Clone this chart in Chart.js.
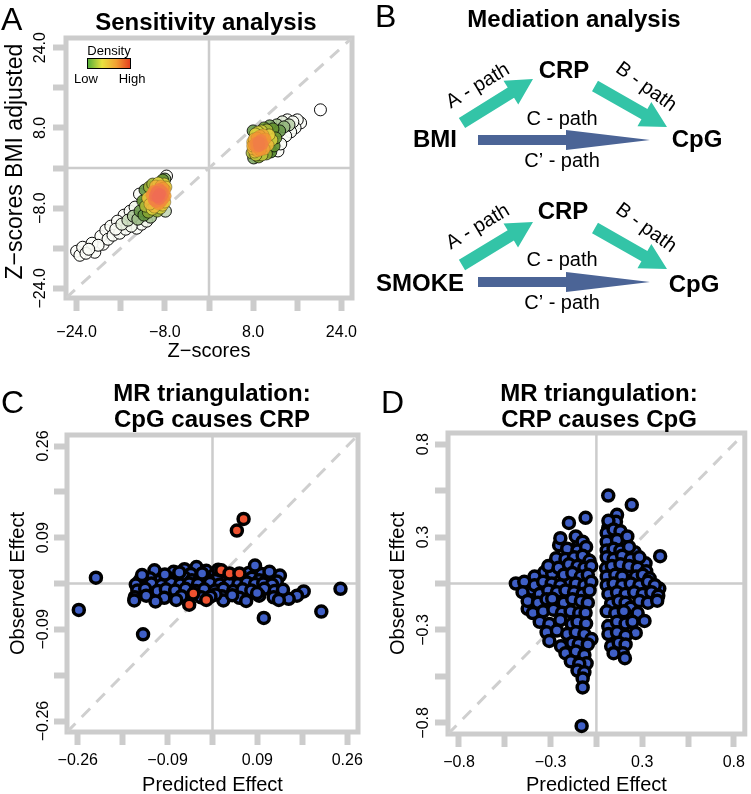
<!DOCTYPE html>
<html>
<head>
<meta charset="utf-8">
<script src="https://cdn.jsdelivr.net/npm/chart.js@4.4.1/dist/chart.umd.min.js"></script>
<style>
  body { margin: 0; background: #fff; }
  #fig { position: relative; width: 751px; height: 794px; overflow: hidden;
         font-family: "Liberation Sans", Arial, sans-serif; color: #000; }
  #fig canvas { position: absolute; }
  .lbl { position: absolute; white-space: nowrap; line-height: 1; }
  .letter { font-size: 32px; }
  .ttl { position: absolute; width: 320px; text-align: center; font-size: 24px;
         font-weight: bold; line-height: 26px; white-space: nowrap; }
  .small { font-size: 13px; width: 50px; text-align: center; }
  #densBar { position: absolute; left: 87px; top: 58px; width: 42px; height: 9px;
             border: 1px solid #000;
             background: linear-gradient(to right, #58b039, #e9e23f, #f2a233, #e5401f); }
</style>
</head>
<body>
<div id="fig">
  <canvas id="chartA" width="375" height="375" style="left:0;top:0"></canvas>
  <canvas id="chartB" width="376" height="375" style="left:375px;top:0"></canvas>
  <canvas id="chartC" width="375" height="404" style="left:0;top:390px"></canvas>
  <canvas id="chartD" width="376" height="404" style="left:375px;top:390px"></canvas>

  <div class="lbl letter" style="left:1px;top:3px">A</div>
  <div class="lbl letter" style="left:375px;top:0px">B</div>
  <div class="lbl letter" style="left:1px;top:386px">C</div>
  <div class="lbl letter" style="left:381px;top:386px">D</div>

  <div class="ttl" style="left:46px;top:9px">Sensitivity analysis</div>
  <div class="ttl" style="left:414px;top:6px">Mediation analysis</div>
  <div class="ttl" style="left:52px;top:380px">MR triangulation:<br>CpG causes CRP</div>
  <div class="ttl" style="left:439px;top:380px">MR triangulation:<br>CRP causes CpG</div>

  <div class="lbl small" style="left:84px;top:44px">Density</div>
  <div id="densBar"></div>
  <div class="lbl small" style="left:61px;top:72px">Low</div>
  <div class="lbl small" style="left:107px;top:72px">High</div>
</div>

<script>
/* ---------- data ---------- */

// Panel A: Z-scores vs BMI adjusted Z-scores
const zScores = [
  -24.0, -23.4, -22.9, -22.3, -21.8, -21.2, -20.7, -20.1, -19.6, -19.2, -18.7, -18.3, -17.8, -17.4,
  -16.9, -16.6, -16.2, -15.8, -15.4, -15.1, -14.7, -14.3, -14.1, -13.7, -13.4, -13.1, -12.9, -12.6,
  -12.5, -12.2, -12.0, -11.8, -11.6, -11.5, -11.3, -11.1, -11.0, -10.8, -10.7, -10.6, -10.4, -10.3,
  -10.2, -10.0, -10.0, -9.9, -9.8, -9.7, -9.6, -9.5, -9.4, -9.3, -9.2, -9.1, -9.0, -9.0, -8.9, -8.8,
  -8.7, -8.6, -8.6, -8.5, -8.4, -8.4, -8.3, -8.2, -8.2, -8.1, -8.0, -8.0, -7.9, -7.9, -7.8, -7.7, -8.0,
  20.2, 16.6, 16.0, 15.6, 15.2, 14.8, 14.5, 14.2, 13.9, 13.6, 13.3, 13.0, 12.8, 12.5, 12.3, 12.1,
  11.8, 11.6, 11.4, 11.2, 11.0, 10.9, 10.7, 10.5, 10.4, 10.2, 10.0, 10.0,
  9.8, 9.7, 9.6, 9.5, 9.4, 9.3, 9.2, 9.1, 9.0, 9.0, 8.9, 8.8, 8.7, 8.6, 8.5, 8.5, 8.4, 8.3, 8.2,
  8.2, 8.1, 8.0, 8.0, 7.9, 7.9, 7.8
];
const zScoresAdj = [
  -16.6, -17.4, -15.8, -17.0, -16.2, -15.0, -16.8, -15.4, -13.6, -15.2, -12.4, -14.2, -11.6, -13.4,
  -12.2, -10.6, -13.0, -11.2, -9.4, -12.2, -10.4, -8.6, -11.6, -9.6, -7.8, -12.0, -10.2, -5.2,
  -8.6, -11.2, -6.6, -9.4, -4.4, -7.6, -10.6, -6.0, -8.8, -3.8, -7.2, -9.8, -5.4, -8.2,
  -3.2, -6.4, -4.6, -7.8, -5.6, -3.6, -6.8, -4.8, -8.6, -5.8, -3.0, -7.2, -4.2, -6.2, -5.2, -8.0,
  -3.6, -6.6, -4.6, -5.6, -2.4, -7.4, -4.0, -6.0, -5.0, -3.2, -6.8, -4.4, -5.6, -8.6, -3.8, -1.6, -2.2,
  11.6, 9.0, 9.6, 8.0, 9.2, 7.2, 8.6, 9.6, 6.4, 8.2, 9.2, 4.8, 7.4, 3.4, 8.6, 6.0,
  4.4, 7.8, 5.6, 3.2, 8.4, 6.6, 4.6, 7.6, 2.8, 5.8, 8.0, 3.8,
  6.6, 4.8, 2.6, 7.4, 5.6, 3.6, 6.4, 4.4, 2.2, 5.2, 7.2, 3.4, 6.0, 4.2, 2.6, 5.0, 6.8, 3.2, 4.6,
  5.8, 2.0, 3.8, 7.4, 5.2, 4.4, 3.0
];
const ticksA = [-24, -16, -8, 0, 8, 16, 24];
const tickLabelsA = ['\u221224.0', '', '\u22128.0', '', '8.0', '', '24.0'];

// Panel C: CpG causes CRP
const predictedC = [
  -0.225, -0.258, -0.134, 0.099, 0.210, 0.247, 0.176, 0.163, 0.147, 0.082,
  -0.109, -0.054, -0.031, -0.075, -0.042, -0.012, 0.070, 0.095, 0.114, 0.130, 0.003, -0.112, 0.082,
  -0.140, -0.121, -0.100, -0.086, -0.068, -0.055, -0.040, -0.024, -0.010, 0.010, 0.028, 0.044, 0.060,
  0.076, 0.090, 0.106, 0.124,
  -0.148, -0.118, -0.098, -0.080, -0.062, -0.045, -0.028, -0.005, 0.014, 0.032, 0.050, 0.066, 0.082,
  0.098, 0.115,
  -0.145, -0.130, -0.106, -0.090, -0.072, -0.052, -0.032, -0.016, 0.005, 0.021, 0.040, 0.058, 0.075,
  0.100, 0.120, 0.136,
  -0.150, -0.128, -0.093, -0.060, -0.022, 0.018, 0.052, 0.090, 0.118,
  -0.151, -0.110, -0.070, 0.021, 0.065, 0.128,
  -0.092, -0.064, -0.020, 0.006, 0.038, 0.086, 0.110, -0.136, -0.004, 0.011
];
const observedC = [
  0.011, -0.050, -0.096, -0.065, -0.053, -0.010, -0.015, -0.023, -0.029, 0.031,
  0.019, 0.027, 0.031, 0.022, 0.018, 0.024, 0.020, 0.018, 0.015, 0.015, 0.016, 0.025, 0.034,
  0.006, 0.010, 0.007, 0.011, 0.008, 0.012, 0.006, 0.010, 0.008, 0.009, 0.006, 0.010, 0.007,
  0.011, 0.006, 0.009, 0.004,
  -0.002, 0.000, -0.003, 0.001, -0.002, 0.000, -0.001, 0.001, -0.002, 0.000, -0.001, 0.002, -0.001,
  0.000, -0.002,
  -0.013, -0.010, -0.014, -0.011, -0.013, -0.010, -0.014, -0.011, -0.013, -0.010, -0.014, -0.011, -0.013,
  -0.010, -0.014, -0.012,
  -0.026, -0.023, -0.027, -0.024, -0.026, -0.024, -0.027, -0.023, -0.026,
  -0.032, -0.034, -0.031, -0.032, -0.033, -0.031,
  0.017, 0.021, 0.019, -0.021, -0.022, -0.018, 0.022, 0.016, -0.025, 0.026
];
const predictedCRed = [0.047, 0.060, 0.017, 0.033, 0.052, -0.037, -0.045, -0.012];
const observedCRed = [0.100, 0.122, 0.025, 0.019, 0.019, -0.019, -0.040, -0.031];
const ticksC = [-0.26, -0.17333, -0.08667, 0, 0.08667, 0.17333, 0.26];
const tickLabelsC = ['\u22120.26', '', '\u22120.09', '', '0.09', '', '0.26'];

// Panel D: CRP causes CpG
const predictedD = [
  -0.160, -0.063, -0.103, -0.217, -0.120, -0.057, -0.234, -0.303, -0.257, -0.469, -0.377, -0.171,
  -0.21, -0.12, -0.08, -0.17, -0.11, -0.06, -0.18, -0.13, -0.08, -0.04,
  -0.28, -0.22, -0.16, -0.11, -0.07, -0.03, -0.36, -0.19, -0.14, -0.09, -0.05,
  -0.42, -0.36, -0.31, -0.26, -0.21, -0.12, -0.07, -0.03,
  -0.43, -0.33, -0.28, -0.23, -0.18, -0.13, -0.08, -0.04,
  -0.40, -0.40, -0.34, -0.29, -0.24, -0.19, -0.14, -0.09, -0.05,
  -0.257, -0.37, -0.31, -0.25, -0.20, -0.15, -0.10, -0.063,
  -0.33, -0.274, -0.21, -0.143, -0.11, -0.06,
  -0.29, -0.23, -0.17, -0.12, -0.07, -0.029,
  -0.274, -0.206, -0.14, -0.103, -0.05,
  -0.18, -0.12, -0.07, -0.149, -0.057, -0.10, -0.11, -0.07,
  -0.08, -0.08, -0.086,
  0.069, 0.206, 0.120, 0.114, 0.069, 0.086, 0.166, 0.223, 0.286, 0.371, 0.366, 0.057, 0.183,
  0.07, 0.06, 0.10, 0.14, 0.06, 0.12, 0.18, 0.06, 0.10, 0.14, 0.19,
  0.06, 0.10, 0.15, 0.20, 0.25, 0.09, 0.14, 0.19, 0.24, 0.29,
  0.06, 0.11, 0.15, 0.23, 0.27, 0.31,
  0.06, 0.10, 0.15, 0.20, 0.25, 0.30, 0.34,
  0.07, 0.12, 0.17, 0.22, 0.27, 0.32, 0.36,
  0.086, 0.13, 0.17, 0.20, 0.25, 0.30, 0.354,
  0.06, 0.11, 0.16, 0.24, 0.28,
  0.069, 0.12, 0.17, 0.229, 0.21,
  0.07, 0.12, 0.17, 0.086, 0.13, 0.17,
  0.154, 0.166, 0.10
];
const observedD = [
  0.348, 0.377, 0.232, 0.220, 0.174, 0.139, 0.145, 0.064, 0.058, 0.000, -0.035, 0.017,
  0.26, 0.27, 0.24, 0.20, 0.19, 0.21, 0.14, 0.15, 0.16, 0.13,
  0.10, 0.09, 0.11, 0.10, 0.09, 0.10, 0.04, 0.05, 0.06, 0.04, 0.05,
  0.01, -0.01, 0.01, 0.00, -0.01, 0.00, -0.01, 0.01,
  -0.05, -0.06, -0.04, -0.05, -0.04, -0.05, -0.06, -0.04,
  -0.145, -0.10, -0.11, -0.09, -0.10, -0.11, -0.09, -0.10, -0.11,
  -0.087, -0.17, -0.16, -0.15, -0.168, -0.16, -0.17, -0.168,
  -0.22, -0.232, -0.21, -0.232, -0.22, -0.23,
  -0.28, -0.27, -0.29, -0.28, -0.29, -0.319,
  -0.33, -0.36, -0.34, -0.348, -0.35,
  -0.40, -0.39, -0.41, -0.447, -0.458, -0.46, -0.50, -0.51,
  -0.545, -0.597, -0.818,
  0.505, 0.452, 0.394, 0.354, 0.319, 0.267, 0.238, 0.180, 0.116, 0.157, -0.029, 0.087, 0.058,
  0.36, 0.29, 0.31, 0.30, 0.24, 0.25, 0.27, 0.19, 0.20, 0.19, 0.21,
  0.15, 0.14, 0.16, 0.14, 0.15, 0.10, 0.11, 0.10, 0.09, 0.07,
  0.04, 0.05, 0.04, 0.04, 0.05, 0.03,
  -0.01, 0.00, -0.01, 0.00, -0.01, 0.01, -0.01,
  -0.06, -0.05, -0.06, -0.05, -0.06, -0.05, -0.07,
  -0.116, -0.10, -0.11, -0.139, -0.10, -0.11, -0.099,
  -0.16, -0.17, -0.16, -0.17, -0.215,
  -0.244, -0.22, -0.23, -0.284, -0.22,
  -0.29, -0.28, -0.30, -0.36, -0.34, -0.35,
  -0.40, -0.429, -0.40
];
const ticksD = [-0.8, -0.53333, -0.26667, 0, 0.26667, 0.53333, 0.8];
const tickLabelsD = ['\u22120.8', '', '\u22120.3', '', '0.3', '', '0.8'];

// Panel B: mediation diagrams
const exposures = ['BMI', 'SMOKE'];
const mediator = 'CRP';
const outcome = 'CpG';
const pathNames = ['A - path', 'B - path', 'C - path', 'C\u2019 - path'];

/* ---------- common settings ---------- */
Chart.defaults.font.family = '"Liberation Sans", Arial, sans-serif';
Chart.defaults.color = '#000';

const GRAY = '#cccccc';

// R-like frame: grey box, zero lines and vertical y tick labels
const framePlugin = {
  id: 'frame',
  beforeDatasetsDraw(chart, args, opts) {
    const { ctx, chartArea: a, scales: { x, y } } = chart;
    ctx.save();
    ctx.strokeStyle = GRAY;
    ctx.lineWidth = 2.5;
    const x0 = x.getPixelForValue(0);
    const y0 = y.getPixelForValue(0);
    ctx.beginPath();
    ctx.moveTo(x0, a.top); ctx.lineTo(x0, a.bottom);
    ctx.moveTo(a.left, y0); ctx.lineTo(a.right, y0);
    ctx.stroke();
    ctx.lineWidth = 5;
    ctx.strokeRect(a.left, a.top, a.right - a.left, a.bottom - a.top);

    // y tick labels, rotated as in base R
    ctx.fillStyle = '#000';
    ctx.font = '16px "Liberation Sans", Arial, sans-serif';
    ctx.textAlign = 'center';
    ctx.textBaseline = 'middle';
    opts.ticks.forEach((v, i) => {
      if (!opts.labels[i]) return;
      ctx.save();
      ctx.translate(opts.labelX, y.getPixelForValue(v));
      ctx.rotate(-Math.PI / 2);
      ctx.fillText(opts.labels[i], 0, 0);
      ctx.restore();
    });
    ctx.restore();
  }
};

function axis(lim, ticks, labels, title, horizontal, size, pad, titlePad, titleSize) {
  return {
    type: 'linear', min: -lim, max: lim,
    afterBuildTicks: s => { s.ticks = ticks.map(v => ({ value: v })); },
    afterFit: s => { if (horizontal) s.height = size; else s.width = size; },
    grid: { drawOnChartArea: false, drawTicks: true, tickLength: 13, tickWidth: 6, tickColor: GRAY },
    border: { display: false },
    ticks: { display: horizontal, autoSkip: false, font: { size: 16 }, color: '#000', padding: pad,
             callback: (v, i) => labels[i] },
    title: { display: true, text: title, font: { size: titleSize || 20 }, color: '#000', padding: titlePad }
  };
}

function points(xs, ys) {
  return xs.map((v, i) => ({ x: v, y: ys[i] }));
}

function diagonal(lim) {
  return {
    type: 'line', order: 5, data: [{ x: -lim, y: -lim }, { x: lim, y: lim }],
    borderColor: '#cfcfcf', borderWidth: 3, borderDash: [12, 9], pointRadius: 0
  };
}

function scatterChart(id, datasets, xAxis, yAxis, padding, frame) {
  return new Chart(document.getElementById(id), {
    type: 'scatter',
    data: { datasets },
    options: {
      responsive: false, animation: false, devicePixelRatio: 1,
      layout: { padding, autoPadding: false },
      plugins: { legend: { display: false }, tooltip: { enabled: false }, frame },
      scales: { x: xAxis, y: yAxis }
    },
    plugins: [framePlugin]
  });
}

/* ---------- panel A: density coloured scatter ---------- */
const dens = zScores.map((xi, i) => zScores.reduce((s, xj, j) =>
  s + Math.exp(-(((xi - xj) / 1.6) ** 2 + ((zScoresAdj[i] - zScoresAdj[j]) / 1.6) ** 2) / 2), 0));
const dMax = Math.max(...dens), dMin = Math.min(...dens);
const ramp = [
  [0, 255, 255, 255], [0.3, 250, 252, 245], [0.46, 80, 135, 45],
  [0.64, 226, 214, 62], [0.82, 241, 150, 52], [1, 240, 108, 84]
];
function rampColor(t, alpha) {
  let k = 0;
  while (k < ramp.length - 2 && t > ramp[k + 1][0]) k++;
  const a = ramp[k], b = ramp[k + 1];
  const f = Math.min(1, Math.max(0, (t - a[0]) / (b[0] - a[0])));
  const c = [1, 2, 3].map(n => Math.round(a[n] + (b[n] - a[n]) * f));
  return `rgba(${c[0]},${c[1]},${c[2]},${alpha})`;
}
const orderA = zScores.map((v, i) => i).sort((i, j) => dens[i] - dens[j]);
const tA = orderA.map(i => (dens[i] - dMin) / (dMax - dMin));

scatterChart('chartA', [
  diagonal(25.92),
  {
    order: 1,
    data: orderA.map(i => ({ x: zScores[i], y: zScoresAdj[i] })),
    pointRadius: 6,
    borderWidth: 1,
    backgroundColor: tA.map(t => rampColor(t, 0.92)),
    borderColor: tA.map(t => `rgba(0,0,0,${Math.min(0.95, Math.max(0, (0.85 - t) * 2)).toFixed(2)})`)
  }
], axis(25.92, ticksA, tickLabelsA, 'Z\u2212scores', true, 77, 12, { bottom: 12 }),
   axis(25.92, ticksA, tickLabelsA, '\u00a0\u00a0Z\u2212scores BMI adjusted', false, 66, 0, { top: 2 }, 23),
   { left: 0, top: 38, right: 23, bottom: 0 },
   { ticks: ticksA, labels: tickLabelsA, labelX: 41 });

/* ---------- panel C ---------- */
const dotStyle = { pointRadius: 5.5, borderWidth: 3.5, borderColor: '#000' };
scatterChart('chartC', [
  diagonal(0.2808),
  { order: 2, data: points(predictedC, observedC), backgroundColor: '#3f5fc6', ...dotStyle },
  { order: 1, data: points(predictedCRed, observedCRed), backgroundColor: '#ee5230', ...dotStyle }
], axis(0.2808, ticksC, tickLabelsC, 'Predicted Effect', true, 62, 6, { bottom: -3 }),
   axis(0.2808, ticksC, tickLabelsC, 'Observed Effect', false, 67, 0, { top: 6 }),
   { left: 0, top: 45, right: 17, bottom: 0 },
   { ticks: ticksC, labels: tickLabelsC, labelX: 44 });

/* ---------- panel D ---------- */
scatterChart('chartD', [
  diagonal(0.864),
  { order: 1, data: points(predictedD, observedD), backgroundColor: '#3f5fc6', ...dotStyle }
], axis(0.864, ticksD, tickLabelsD, 'Predicted Effect', true, 60, 6, { bottom: -3 }),
   axis(0.864, ticksD, tickLabelsD, 'Observed Effect', false, 73, 0, { top: 11 }),
   { left: 0, top: 43, right: 2, bottom: 0 },
   { ticks: ticksD, labels: tickLabelsD, labelX: 49 });

/* ---------- panel B: mediation diagrams (page coordinates) ---------- */
const diagramLayout = [
  { exp: [435, 140], med: [564, 71.5], out: [697, 140],
    a: [[462, 123], [533, 79]], b: [[595, 86], [667, 127]], c: [[478, 140], [650, 140]],
    labels: [[478, 86, -31], [646, 87, 36], [562, 119, 0], [562, 161, 0]] },
  { exp: [420, 284], med: [563, 212], out: [694, 285],
    a: [[462, 265], [533, 222]], b: [[595, 228], [667, 269]], c: [[478, 282], [650, 282]],
    labels: [[478, 227, -31], [646, 228, 36], [562, 260, 0], [562, 303, 0]] }
];
const tealArrow = { color: '#33c4a7', shaftW: 12, headW: 28, headL: 26 };
const blueArrow = { color: '#4b6496', shaftW: 10, headW: 20, headL: 84 };

function drawArrow(ctx, x1, y1, x2, y2, s) {
  const len = Math.hypot(x2 - x1, y2 - y1);
  const ux = (x2 - x1) / len, uy = (y2 - y1) / len;
  const nx = -uy, ny = ux;
  const bx = x2 - ux * s.headL, by = y2 - uy * s.headL;
  const pts = [
    [x1 + nx * s.shaftW / 2, y1 + ny * s.shaftW / 2],
    [bx + nx * s.shaftW / 2, by + ny * s.shaftW / 2],
    [bx + nx * s.headW / 2, by + ny * s.headW / 2],
    [x2, y2],
    [bx - nx * s.headW / 2, by - ny * s.headW / 2],
    [bx - nx * s.shaftW / 2, by - ny * s.shaftW / 2],
    [x1 - nx * s.shaftW / 2, y1 - ny * s.shaftW / 2]
  ];
  ctx.beginPath();
  pts.forEach((p, i) => i ? ctx.lineTo(p[0], p[1]) : ctx.moveTo(p[0], p[1]));
  ctx.closePath();
  ctx.fillStyle = s.color;
  ctx.fill();
}

const diagramPlugin = {
  id: 'diagram',
  afterDatasetsDraw(chart) {
    const { ctx, scales: { x, y } } = chart;
    const px = p => [x.getPixelForValue(p[0]), y.getPixelForValue(p[1])];
    ctx.save();
    ctx.textAlign = 'center';
    ctx.textBaseline = 'middle';
    diagramLayout.forEach((d, k) => {
      [['a', tealArrow], ['b', tealArrow], ['c', blueArrow]].forEach(([key, st]) => {
        const p1 = px(d[key][0]), p2 = px(d[key][1]);
        drawArrow(ctx, p1[0], p1[1], p2[0], p2[1], st);
      });
      ctx.fillStyle = '#000';
      ctx.font = 'bold 24px "Liberation Sans", Arial, sans-serif';
      [[exposures[k], d.exp], [mediator, d.med], [outcome, d.out]].forEach(([txt, p]) => {
        const q = px(p);
        ctx.fillText(txt, q[0], q[1]);
      });
      ctx.font = '20px "Liberation Sans", Arial, sans-serif';
      d.labels.forEach((l, i) => {
        const q = px(l);
        ctx.save();
        ctx.translate(q[0], q[1]);
        ctx.rotate(l[2] * Math.PI / 180);
        ctx.fillText(pathNames[i], 0, 0);
        ctx.restore();
      });
    });
    ctx.restore();
  }
};

new Chart(document.getElementById('chartB'), {
  type: 'scatter',
  data: { datasets: [{ data: [] }] },
  options: {
    responsive: false, animation: false, devicePixelRatio: 1,
    layout: { padding: 0, autoPadding: false },
    plugins: { legend: { display: false }, tooltip: { enabled: false } },
    scales: {
      x: { type: 'linear', min: 375, max: 751, display: false },
      y: { type: 'linear', min: 0, max: 375, reverse: true, display: false }
    }
  },
  plugins: [diagramPlugin]
});
</script>
</body>
</html>
